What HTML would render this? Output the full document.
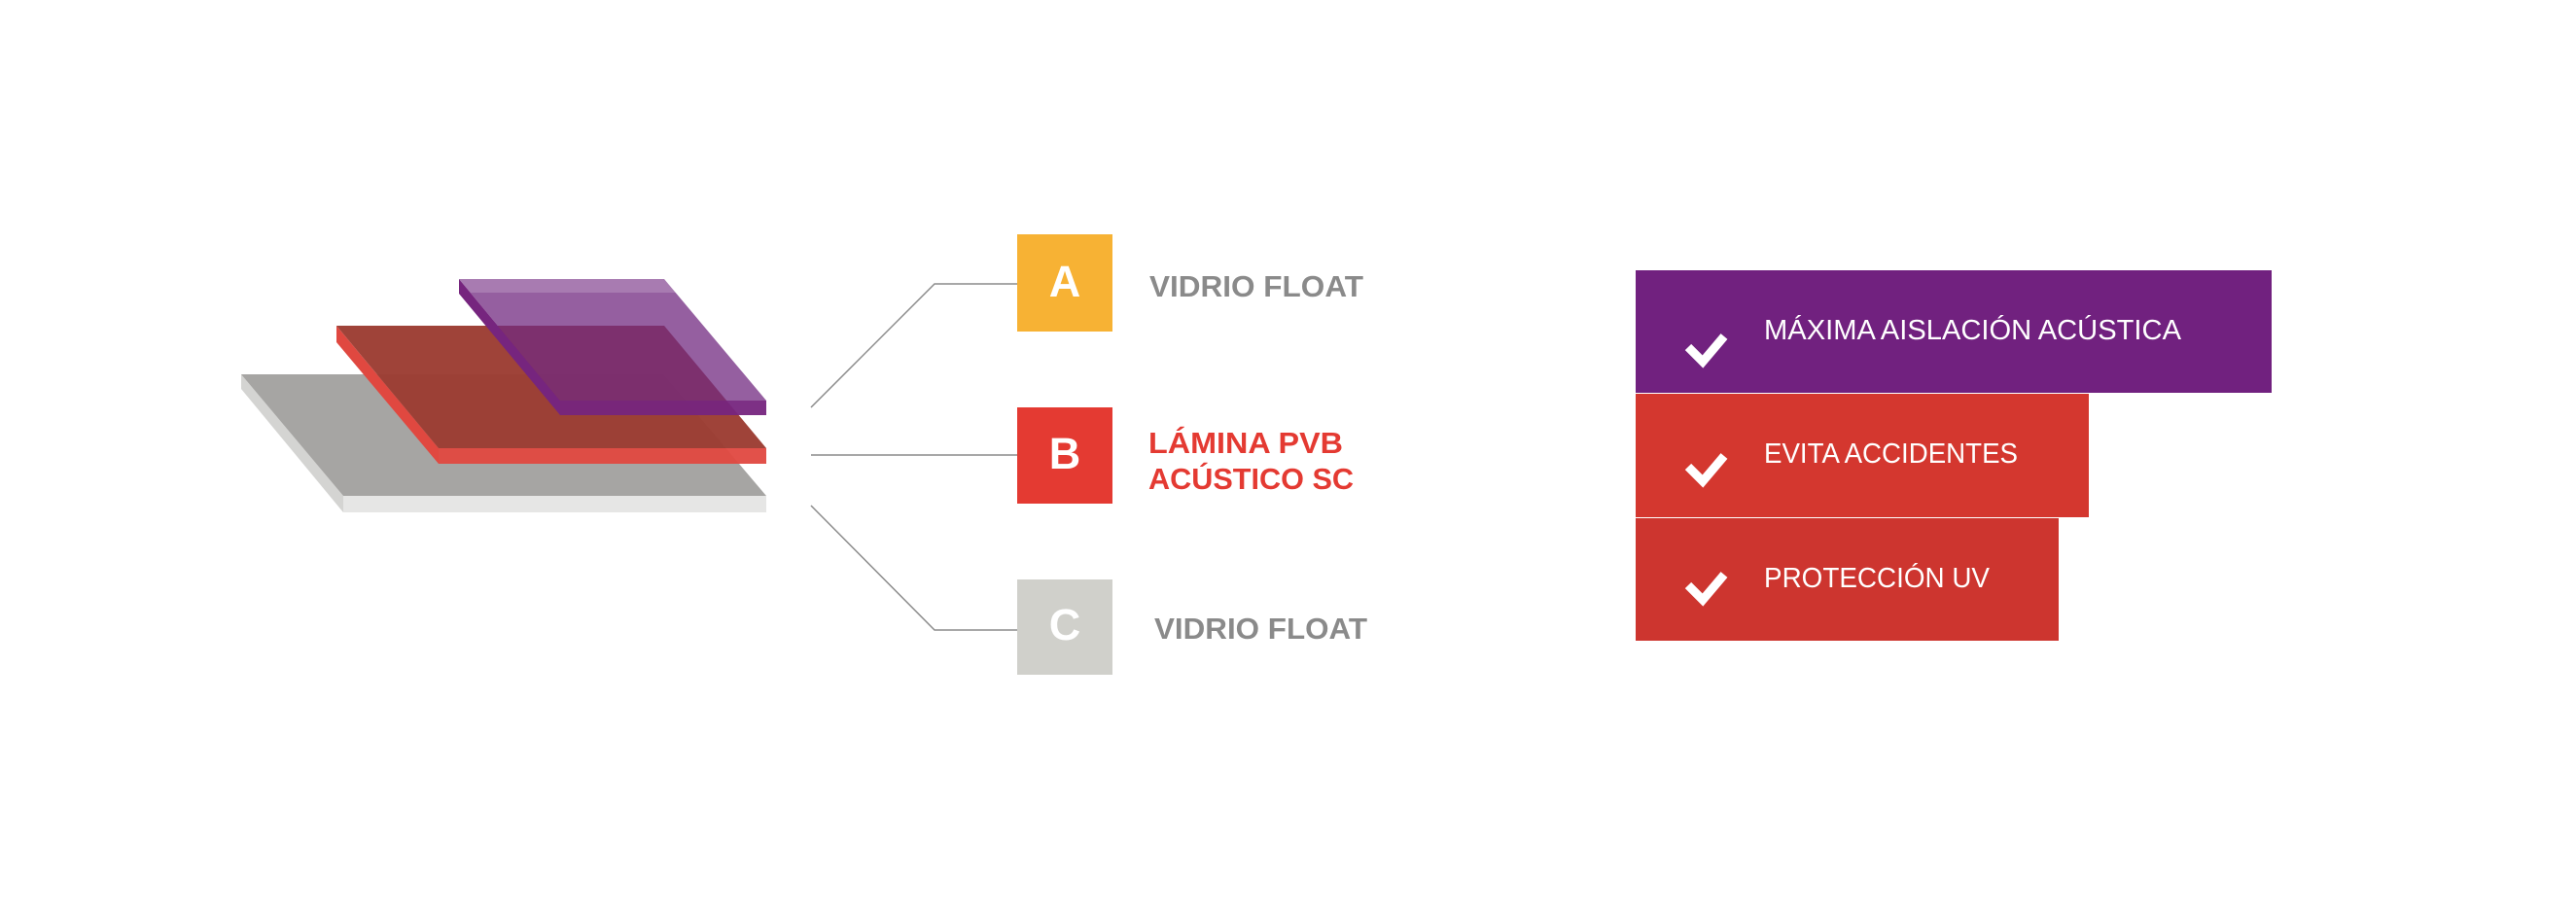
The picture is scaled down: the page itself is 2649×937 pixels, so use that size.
<!DOCTYPE html>
<html><head><meta charset="utf-8"><style>
html,body{margin:0;padding:0;background:#fff;}
svg{display:block;}
text{font-family:"Liberation Sans",sans-serif;}
</style></head><body>
<svg width="2649" height="937" viewBox="0 0 2649 937" xmlns="http://www.w3.org/2000/svg">
<rect width="2649" height="937" fill="#fff"/>
<!-- gray slab -->
<polygon points="248,385 248,400 353,527 353,510" fill="#d4d4d2"/>
<rect x="353" y="510" width="435" height="17" fill="#e6e6e5"/>
<polygon points="248,385 682,385 788,510 353,510" fill="#a6a5a3"/>
<!-- red slab -->
<polygon points="346,335 346,352 451,477 451,461" fill="#e04840"/>
<rect x="451" y="461" width="337" height="16" fill="#e04840" opacity="0.95"/>
<polygon points="346,335 683,335 788,461 451,461" fill="#9b3b31" opacity="0.96"/>
<!-- purple slab -->
<polygon points="472,287 472,302 576,427 576,412" fill="#76257e"/>
<rect x="576" y="412" width="212" height="15" fill="#76257e" opacity="0.95"/>
<polygon points="472,287 683,287 788,412 576,412" fill="rgb(113,41,128)" fill-opacity="0.75"/>
<polygon points="472,287 683,287 695,301 484,301" fill="#fff" fill-opacity="0.18"/>
<!-- connectors -->
<polyline points="834,419 961,292 1046,292" fill="none" stroke="#8c8c8c" stroke-width="1.5"/>
<line x1="834" y1="468" x2="1046" y2="468" stroke="#8c8c8c" stroke-width="1.5"/>
<polyline points="834,520 961,648 1046,648" fill="none" stroke="#8c8c8c" stroke-width="1.5"/>
<!-- boxes -->
<rect x="1046" y="241" width="98" height="100" fill="#f7b234"/>
<rect x="1046" y="419" width="98" height="99" fill="#e43a32"/>
<rect x="1046" y="596" width="98" height="98" fill="#d0d0cb"/>
<text x="1095" y="305" fill="#fff" font-size="45" font-weight="bold" text-anchor="middle">A</text>
<text x="1095" y="482" fill="#fff" font-size="45" font-weight="bold" text-anchor="middle">B</text>
<text x="1095" y="658" fill="#fff" font-size="45" font-weight="bold" text-anchor="middle">C</text>
<text x="1182" y="305" fill="#8a8a8a" font-size="31" font-weight="bold" textLength="220" lengthAdjust="spacingAndGlyphs">VIDRIO FLOAT</text>
<text x="1181" y="466" fill="#e43a32" font-size="31" font-weight="bold" textLength="200" lengthAdjust="spacingAndGlyphs">LÁMINA PVB</text>
<text x="1181" y="503" fill="#e43a32" font-size="31" font-weight="bold" textLength="211" lengthAdjust="spacingAndGlyphs">ACÚSTICO SC</text>
<text x="1187" y="657" fill="#8a8a8a" font-size="31" font-weight="bold" textLength="219" lengthAdjust="spacingAndGlyphs">VIDRIO FLOAT</text>
<!-- right boxes -->
<rect x="1682" y="278" width="654" height="126" fill="#71217f"/>
<rect x="1682" y="405" width="466" height="127" fill="#d4372f"/>
<rect x="1682" y="533" width="435" height="126" fill="#cd352f"/>
<g fill="none" stroke="#fff" stroke-width="9">
<polyline points="1736,357 1751,372 1773,346"/>
<polyline points="1736,480 1751,495 1773,469"/>
<polyline points="1736,602 1751,617 1773,591"/>
</g>
<text x="1814" y="349" fill="#fff" font-size="29" textLength="429" lengthAdjust="spacingAndGlyphs">MÁXIMA AISLACIÓN ACÚSTICA</text>
<text x="1814" y="476" fill="#fff" font-size="29" textLength="261" lengthAdjust="spacingAndGlyphs">EVITA ACCIDENTES</text>
<text x="1814" y="604" fill="#fff" font-size="29" textLength="232" lengthAdjust="spacingAndGlyphs">PROTECCIÓN UV</text>
</svg>
</body></html>
